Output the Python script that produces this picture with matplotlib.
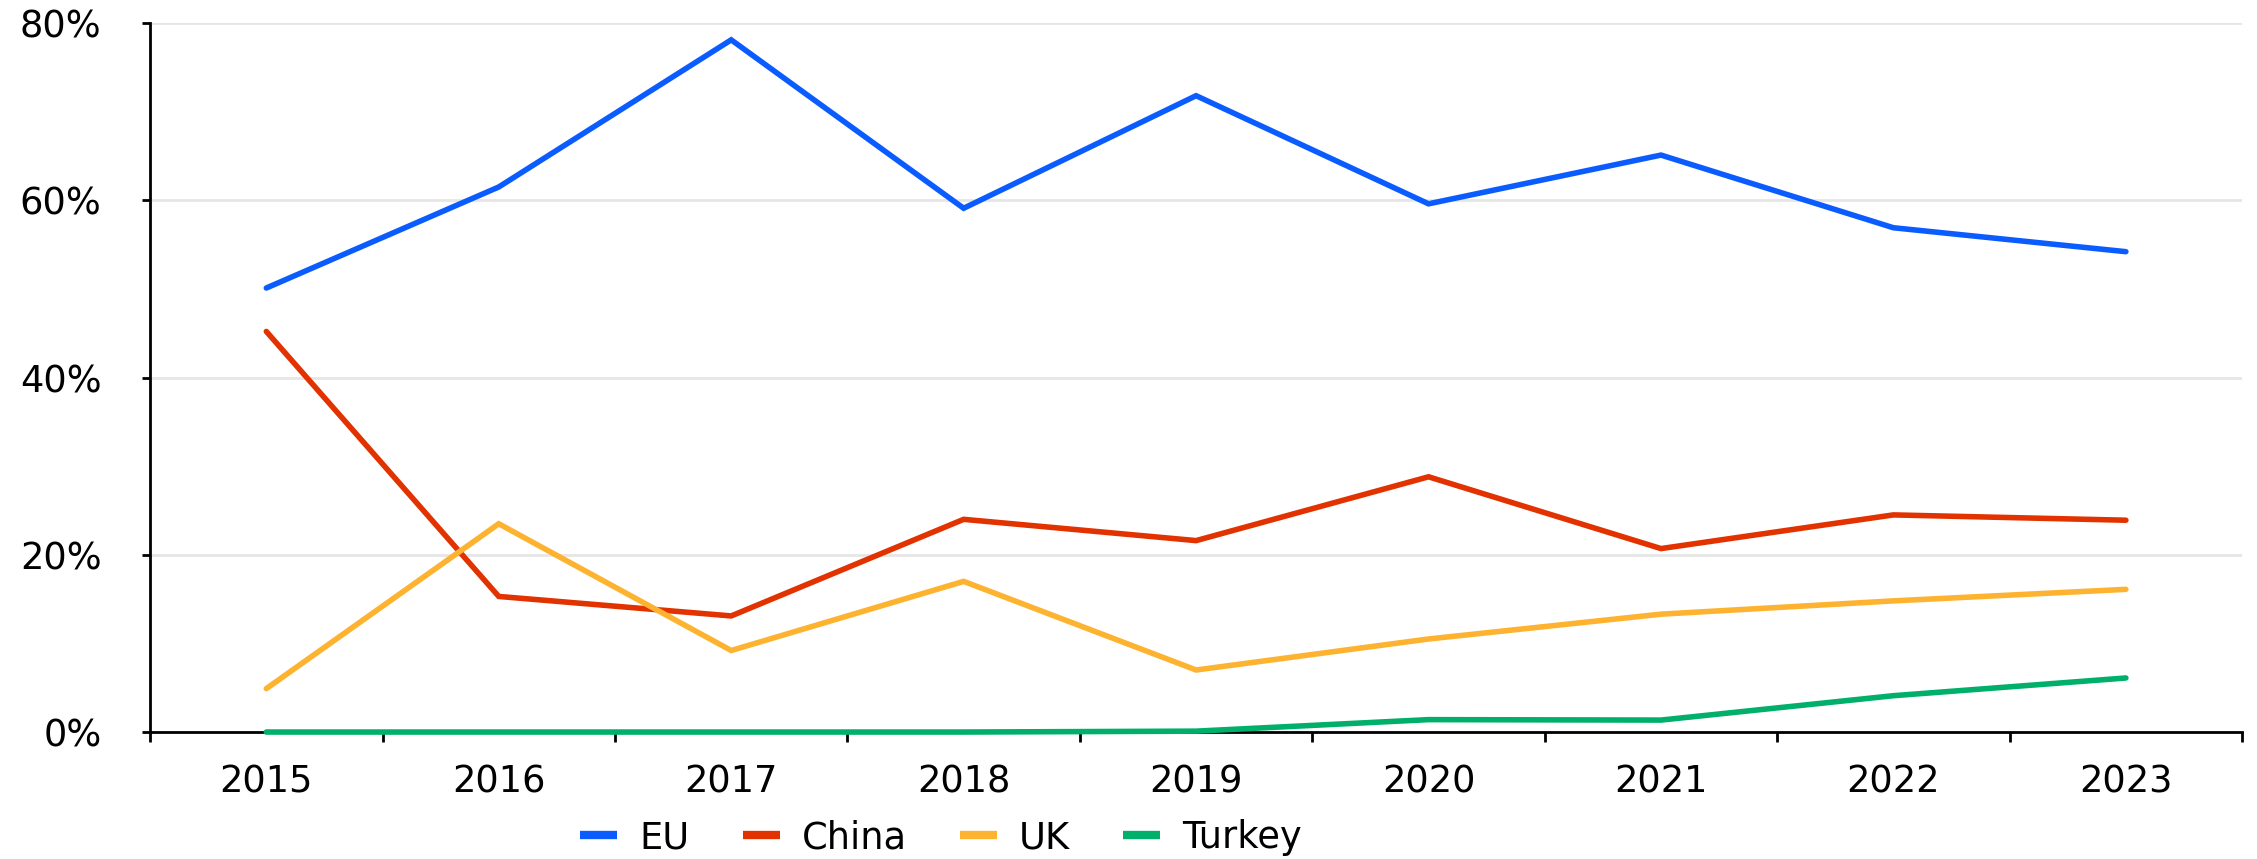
import numpy as np
import matplotlib
matplotlib.use("Agg")
import matplotlib.pyplot as plt
from matplotlib.ticker import FixedLocator

# data (share, %)
years = ["2015", "2016", "2017", "2018", "2019", "2020", "2021", "2022", "2023"]
eu = [50.1, 61.5, 78.1, 59.1, 71.8, 59.6, 65.1, 56.9, 54.2]
china = [45.2, 15.3, 13.1, 24.0, 21.6, 28.8, 20.7, 24.5, 23.9]
uk = [4.9, 23.5, 9.2, 17.0, 7.0, 10.5, 13.3, 14.8, 16.1]
turkey = [0.0, 0.0, 0.0, 0.0, 0.1, 1.4, 1.35, 4.1, 6.1]

series_names = ["EU", "China", "UK", "Turkey"]
series_vals = [eu, china, uk, turkey]
series_colors = ["#0A5CFF", "#E23200", "#FDB32F", "#00AF6A"]
y_ticks = [0, 20, 40, 60, 80]

plt.rcParams['font.family'] = ['DejaVu Sans']

fig = plt.figure(figsize=(22.57, 8.59), dpi=100)
ax = fig.add_axes([0.0665, 0.1478, 0.9269, 0.8254])

x = np.arange(len(years))
for name, vals, col in zip(series_names, series_vals, series_colors):
    ax.plot(x, vals, color=col, linewidth=4, label=name, clip_on=False,
            solid_capstyle='round', solid_joinstyle='miter', zorder=5)

ax.set_xlim(-0.5, len(years) - 0.5)
ax.set_ylim(0, 80)

# y axis: percent labels + light grid
ax.set_yticks(y_ticks)
ax.set_yticklabels([f"{v}%" for v in y_ticks])
ax.grid(axis='y', color='#E6E6E6', linewidth=2, zorder=0)
ax.tick_params(axis='y', length=6, width=2, pad=29, labelsize=26.5, direction='out')

# x axis: labels at category centres, ticks at category boundaries
ax.set_xticks(x)
ax.set_xticklabels(years)
ax.xaxis.set_minor_locator(FixedLocator(np.arange(-0.5, len(years), 1.0)))
ax.tick_params(axis='x', which='major', length=0, pad=23, labelsize=26.5)
ax.tick_params(axis='x', which='minor', length=7, width=2, direction='out')

for s in ['top', 'right']:
    ax.spines[s].set_visible(False)
for s in ['left', 'bottom']:
    ax.spines[s].set_linewidth(2)
    ax.spines[s].set_color('black')
    ax.spines[s].set_zorder(4)

leg = fig.legend(loc='center', bbox_to_anchor=(0.417, 0.025), ncol=4,
                 frameon=False, fontsize=26.5, handlelength=1.0,
                 handletextpad=0.6, columnspacing=1.45, borderpad=0)
for line in leg.get_lines():
    line.set_linewidth(6)
    line.set_solid_capstyle('butt')

fig.savefig("out.png", dpi=100)
